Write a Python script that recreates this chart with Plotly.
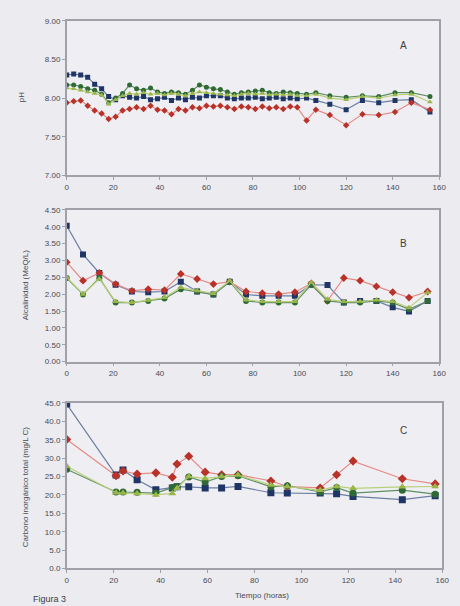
import plotly.graph_objects as go

# ---------------- data ----------------
# Panel A: pH
t_a = [0, 3, 6, 9, 12, 15, 18, 21, 24, 27, 30, 33, 36, 39, 42, 45, 48, 51, 54, 57,
       60, 63, 66, 69, 72, 75, 78, 81, 84, 87, 90, 93, 96, 99,
       103, 107, 113, 120, 127, 134, 141, 148, 156]
ph_blue = [8.30, 8.31, 8.30, 8.27, 8.18, 8.12, 8.02, 7.98, 8.03, 8.01, 8.00, 8.02, 7.98, 7.99,
           8.01, 7.97, 8.00, 7.98, 8.01, 8.00, 8.03, 8.03, 8.03, 8.00, 7.99, 8.00, 8.00, 8.01,
           7.99, 8.00, 8.01, 7.99, 8.00, 7.99,
           8.00, 7.97, 7.92, 7.85, 7.97, 7.94, 7.97, 7.98, 7.82]
ph_red = [7.94, 7.96, 7.97, 7.90, 7.84, 7.80, 7.73, 7.76, 7.84, 7.86, 7.88, 7.86, 7.90, 7.85,
          7.84, 7.79, 7.86, 7.84, 7.88, 7.87, 7.90, 7.89, 7.90, 7.88, 7.86, 7.89, 7.88, 7.86,
          7.89, 7.87, 7.88, 7.86, 7.89, 7.88,
          7.71, 7.85, 7.78, 7.65, 7.79, 7.78, 7.82, 7.94, 7.85]
ph_dgreen = [8.17, 8.17, 8.15, 8.12, 8.10, 8.05, 7.94, 8.00, 8.06, 8.17, 8.12, 8.10, 8.13, 8.08,
             8.06, 8.08, 8.07, 8.05, 8.10, 8.17, 8.14, 8.12, 8.11, 8.08, 8.05, 8.07, 8.08, 8.09,
             8.10, 8.07, 8.06, 8.08, 8.07, 8.06,
             8.05, 8.07, 8.03, 8.01, 8.03, 8.02, 8.07, 8.07, 8.02]
ph_lgreen = [8.13, 8.12, 8.10, 8.08, 8.06, 8.04, 7.92, 7.98, 8.03, 8.06, 8.05, 8.07, 8.05, 8.06,
             8.04, 8.06, 8.05, 8.03, 8.06, 8.08, 8.07, 8.06, 8.05, 8.04, 8.03, 8.05, 8.06, 8.05,
             8.06, 8.04, 8.05, 8.04, 8.05, 8.03,
             8.03, 8.05, 8.00, 7.98, 8.02, 8.00, 8.04, 8.05, 7.95]

# Panel B: Alcalinidad (MeQ/L)
t_b = [0, 7, 14, 21, 28, 35, 42, 49, 56, 63, 70, 77, 84, 91, 98, 105, 112, 119, 126, 133, 140, 147, 155]
alk_blue = [4.03, 3.18, 2.63, 2.28, 2.08, 2.06, 2.08, 2.37, 2.08, 1.99, 2.37, 1.99, 1.95, 1.95,
            1.95, 2.28, 2.27, 1.75, 1.80, 1.80, 1.61, 1.49, 1.80]
alk_red = [2.95, 2.40, 2.63, 2.30, 2.10, 2.15, 2.12, 2.60, 2.45, 2.30, 2.37, 2.08, 2.03, 2.00,
           2.06, 2.32, 1.80, 2.48, 2.40, 2.23, 2.06, 1.90, 2.08]
alk_dgreen = [2.48, 1.99, 2.48, 1.75, 1.75, 1.80, 1.87, 2.15, 2.08, 1.99, 2.37, 1.80, 1.75, 1.75,
              1.75, 2.28, 1.80, 1.75, 1.75, 1.80, 1.75, 1.55, 1.80]
alk_lgreen = [2.50, 2.00, 2.45, 1.78, 1.75, 1.82, 1.90, 2.20, 2.10, 2.02, 2.40, 1.83, 1.78, 1.78,
              1.78, 2.35, 1.85, 1.78, 1.78, 1.83, 1.78, 1.60, 2.05]

# Panel C: Carbono inorganico total (mg/L C)
t_c = [0, 21, 24, 30, 38, 45, 47, 52, 59, 66, 73, 87, 94, 108, 115, 122, 143, 157]
cit_blue = [44.7, 25.4, 26.8, 24.1, 21.4, 21.9, 22.2, 22.2, 21.9, 21.9, 22.3, 20.6, 20.5, 20.5,
            20.3, 19.6, 18.7, 19.8]
cit_red = [35.1, 25.2, 26.5, 25.7, 26.0, 24.8, 28.4, 30.5, 26.2, 25.5, 25.5, 23.8, 22.3, 21.9,
           25.5, 29.2, 24.4, 23.0]
cit_dgreen = [27.0, 20.8, 20.8, 20.7, 20.5, 22.0, 22.2, 24.9, 23.5, 25.0, 25.2, 22.2, 22.5, 20.8,
              22.0, 20.5, 21.3, 20.2]
cit_lgreen = [27.8, 20.6, 20.5, 20.4, 20.0, 20.4, 21.8, 25.0, 24.5, 25.0, 25.4, 22.7, 22.3, 21.3,
              22.3, 21.8, 22.2, 22.3]

x_ticks = [0, 20, 40, 60, 80, 100, 120, 140, 160]

# ---------------- styling ----------------
series_style = [
    ("#1e3566", "#6b7fa3", "square"),
    ("#b8322a", "#e58a86", "diamond"),
    ("#2f6a35", "#5f8f62", "circle"),
    ("#9ab54a", "#b9cf7a", "triangle-up"),
]

fig = go.Figure()

panels = [
    ("", "y", t_a, [ph_blue, ph_red, ph_dgreen, ph_lgreen], 5),
    ("2", "y2", t_b, [alk_blue, alk_red, alk_dgreen, alk_lgreen], 6),
    ("3", "y3", t_c, [cit_blue, cit_red, cit_dgreen, cit_lgreen], 7),
]
for xs, ys, tt, series, msize in panels:
    for vals, (mc, lc, sym) in zip(series, series_style):
        fig.add_trace(go.Scatter(
            x=tt, y=vals, xaxis="x" + xs, yaxis=ys, mode="lines+markers",
            line=dict(color=lc, width=1.2),
            marker=dict(color=mc, size=msize, symbol=sym, line=dict(width=0)),
            showlegend=False, hoverinfo="skip"))

W, H = 460, 606
def px_x(p):
    return p / W
def px_y(p):
    return 1 - p / H

axis_common = dict(showline=True, linecolor="#a0a0a8", linewidth=1.5, mirror=True,
                   showgrid=False, zeroline=False, ticks="outside", ticklen=3,
                   tickcolor="#a0a0a8", tickfont=dict(family="Liberation Sans, Arial", size=8, color="#4a4a52"))

fig.update_layout(
    width=W, height=H, margin=dict(l=0, r=0, t=0, b=0),
    paper_bgcolor="#ebebf0", plot_bgcolor="#efeff3",
    xaxis=dict(domain=[px_x(66), px_x(446)], range=[0, 160], tickvals=x_ticks,
               anchor="y", **axis_common),
    yaxis=dict(domain=[px_y(174), px_y(17)], range=[7.0, 9.0],
               tickvals=[7.0, 7.5, 8.0, 8.5, 9.0],
               ticktext=["7.00", "7.50", "8.00", "8.50", "9.00"], anchor="x", **axis_common),
    xaxis2=dict(domain=[px_x(66), px_x(446)], range=[0, 160], tickvals=x_ticks,
                anchor="y2", **axis_common),
    yaxis2=dict(domain=[px_y(363), px_y(209)], range=[0, 4.5],
                tickvals=[0, 0.5, 1, 1.5, 2, 2.5, 3, 3.5, 4, 4.5],
                ticktext=["0.00", "0.50", "1.00", "1.50", "2.00", "2.50", "3.00", "3.50", "4.00", "4.50"],
                anchor="x2", **axis_common),
    xaxis3=dict(domain=[px_x(66), px_x(449)], range=[0, 160], tickvals=x_ticks,
                anchor="y3", **axis_common),
    yaxis3=dict(domain=[px_y(573), px_y(405)], range=[0, 45],
                tickvals=[0, 5, 10, 15, 20, 25, 30, 35, 40, 45],
                ticktext=["0.0", "5.0", "10.0", "15.0", "20.0", "25.0", "30.0", "35.0", "40.0", "45.0"],
                anchor="x3", **axis_common),
)

lab_font = dict(family="Liberation Sans, Arial", size=8, color="#4a4a52")

def note(text, x, y, font, angle=0):
    fig.add_annotation(text=text, xref="paper", yref="paper", x=px_x(x), y=px_y(y),
                       xanchor="center", yanchor="middle", textangle=angle,
                       showarrow=False, font=font)

letter_font = dict(family="Liberation Sans, Arial", size=10, color="#3c3c44")
note("A", 410, 42, letter_font)
note("B", 410, 243, letter_font)
note("C", 410, 433, letter_font)

note("pH", 20, 95, lab_font, -90)
note("Alcalinidad (MeQ/L)", 24, 285, lab_font, -90)
note("Carbono inorgánico total (mg/L C)", 24, 490, lab_font, -90)
note("Tiempo (horas)", 265, 600, lab_font)
note("Figura 3", 48, 604, dict(family="Liberation Sans, Arial", size=9, color="#3c3c44"))

fig.write_html("out.html")
